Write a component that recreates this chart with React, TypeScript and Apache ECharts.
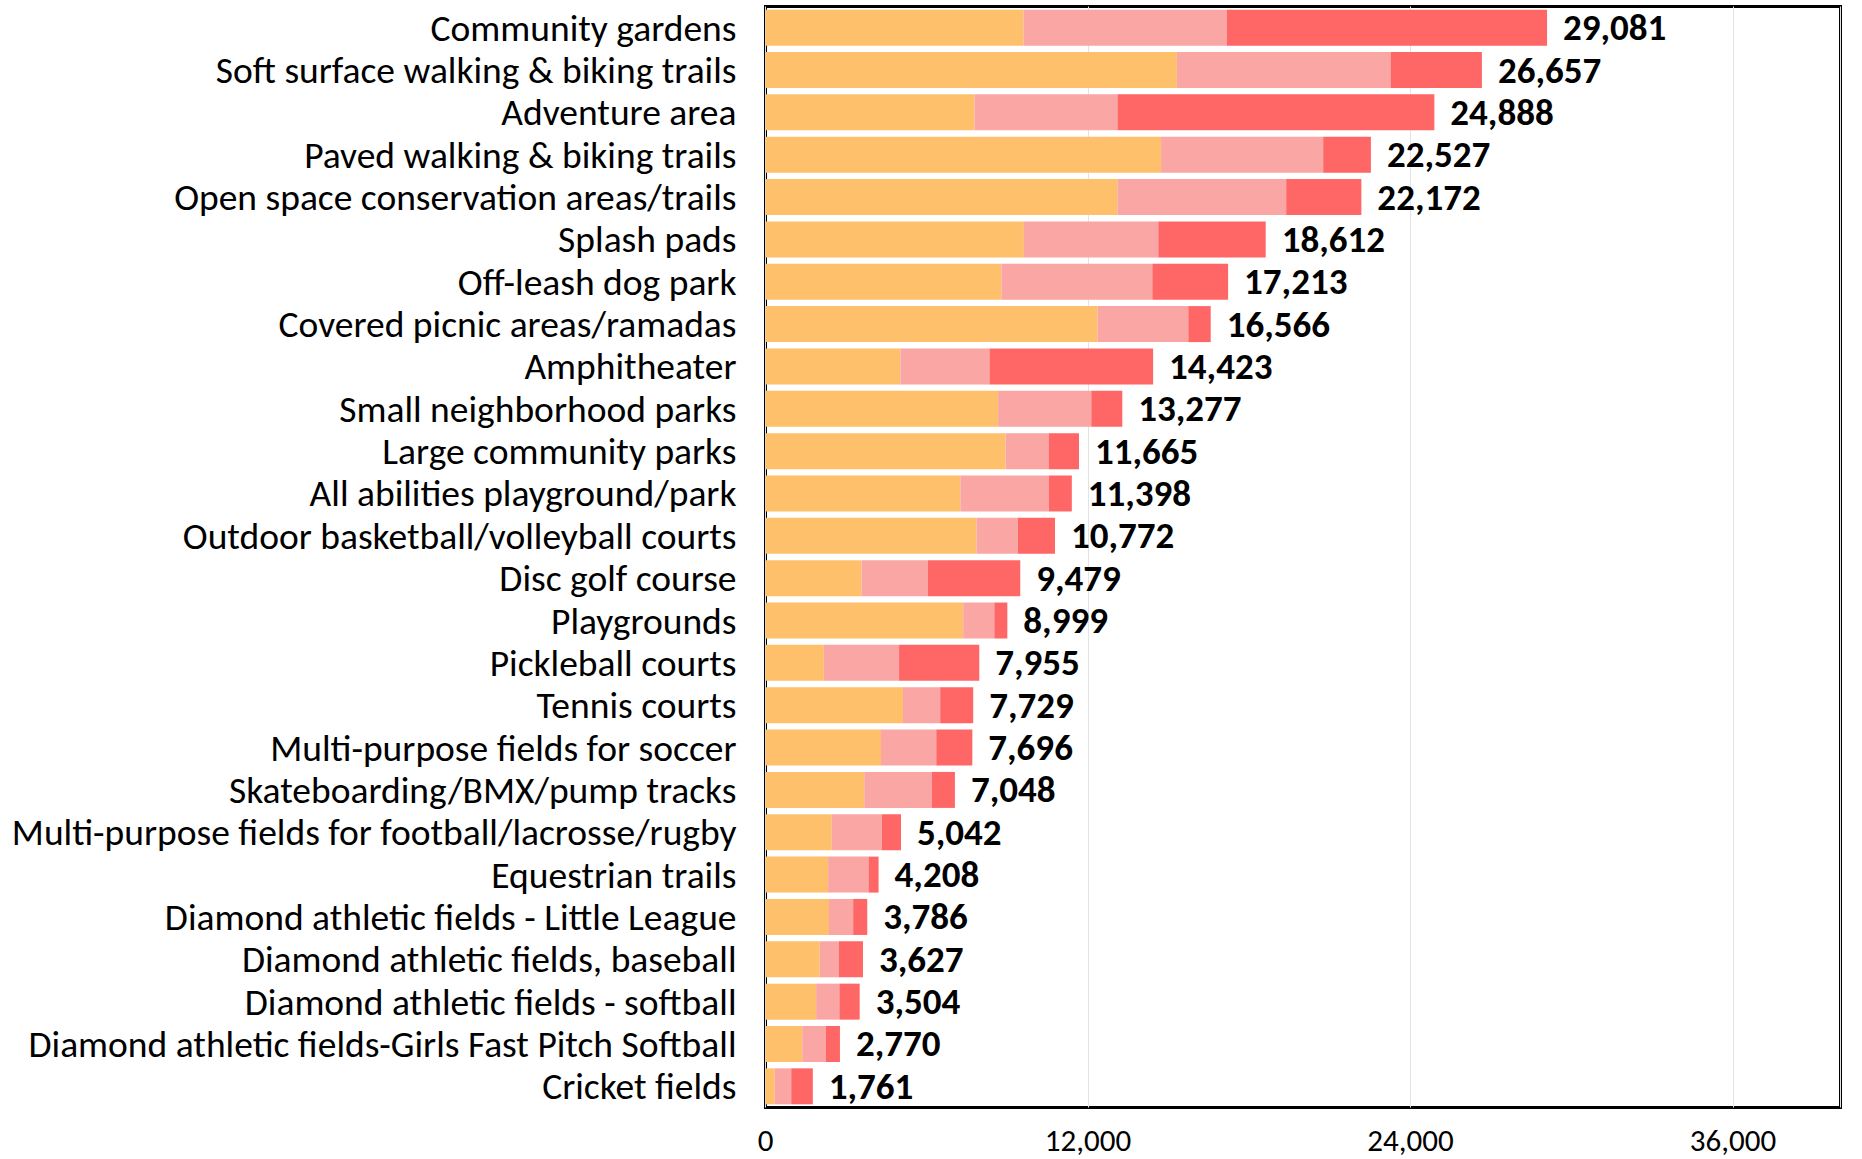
import React, { useEffect, useRef } from "react";
import * as echarts from "echarts";

const categories = [
  "Community gardens",
  "Soft surface walking & biking trails",
  "Adventure area",
  "Paved walking & biking trails",
  "Open space conservation areas/trails",
  "Splash pads",
  "Off-leash dog park",
  "Covered picnic areas/ramadas",
  "Amphitheater",
  "Small neighborhood parks",
  "Large community parks",
  "All abilities playground/park",
  "Outdoor basketball/volleyball courts",
  "Disc golf course",
  "Playgrounds",
  "Pickleball courts",
  "Tennis courts",
  "Multi-purpose fields for soccer",
  "Skateboarding/BMX/pump tracks",
  "Multi-purpose fields for football/lacrosse/rugby",
  "Equestrian trails",
  "Diamond athletic fields - Little League",
  "Diamond athletic fields, baseball",
  "Diamond athletic fields - softball",
  "Diamond athletic fields-Girls Fast Pitch Softball",
  "Cricket fields",
];

const totals = [29081, 26657, 24888, 22527, 22172, 18612, 17213, 16566, 14423, 13277, 11665, 11398, 10772, 9479, 8999, 7955, 7729, 7696, 7048, 5042, 4208, 3786, 3627, 3504, 2770, 1761];

const orangeValues = [9600, 15306, 7776, 14719, 13094, 9616, 8777, 12355, 5021, 8656, 8935, 7251, 7851, 3571, 7356, 2171, 5115, 4298, 3674, 2465, 2329, 2362, 2019, 1884, 1366, 345];
const pinkValues = [7570, 7952, 5320, 6032, 6280, 5000, 5617, 3377, 3312, 3466, 1601, 3289, 1539, 2466, 1157, 2799, 1385, 2056, 2512, 1867, 1503, 899, 711, 866, 873, 612];
const redValues = [11911, 3399, 11792, 1776, 2798, 3996, 2819, 834, 6090, 1155, 1129, 858, 1382, 3442, 486, 2985, 1229, 1342, 862, 710, 376, 525, 897, 754, 531, 804];

const xTicks = [0, 12000, 24000, 36000];

const FONT = "Carlito, Lato, sans-serif";

function fmt(v: number) {
  return v.toLocaleString("en-US");
}

export default function App() {
  const ref = useRef<HTMLDivElement>(null);
  useEffect(() => {
    if (!ref.current) return;
    const chart = echarts.init(ref.current, null, { renderer: "svg" });
    const barCommon = {
      type: "bar" as const,
      stack: "total",
      barCategoryGap: "15%",
    };
    chart.setOption({
      animation: false,
      backgroundColor: "#ffffff",
      grid: {
        left: 765.5,
        right: 21.5,
        top: 6.5,
        bottom: 51.5,
        show: true,
        borderColor: "#000000",
        borderWidth: 3,
        backgroundColor: "transparent",
      },
      xAxis: {
        type: "value",
        min: 0,
        max: 40000,
        interval: 12000,
        axisLine: { show: false },
        axisTick: { show: false },
        splitLine: { show: true, lineStyle: { color: "#e3e3e3", width: 1 } },
        axisLabel: {
          showMaxLabel: false,
          margin: 17,
          color: "#000000",
          fontFamily: FONT,
          fontSize: 31,
          lineHeight: 31,
          formatter: (v: number) => (xTicks.includes(v) ? fmt(v) : ""),
        },
      },
      yAxis: {
        type: "category",
        data: categories,
        inverse: true,
        axisLine: { show: false },
        axisTick: { show: false },
        splitLine: { show: false },
        axisLabel: {
          interval: 0,
          margin: 29,
          color: "#000000",
          fontFamily: FONT,
          fontSize: 37.5,
          lineHeight: 40,
        },
      },
      series: [
        { ...barCommon, name: "A", data: orangeValues, itemStyle: { color: "#FEC06A" } },
        { ...barCommon, name: "B", data: pinkValues, itemStyle: { color: "#F9A6A4" } },
        {
          ...barCommon,
          name: "C",
          data: redValues,
          itemStyle: { color: "#FF6666" },
          label: {
            show: true,
            position: "right",
            distance: 16,
            color: "#000000",
            fontFamily: FONT,
            fontWeight: "bold",
            fontSize: 37,
            formatter: (p: any) => fmt(totals[p.dataIndex]),
          },
        },
      ],
    });
    return () => chart.dispose();
  }, []);
  return (
    <div
      ref={ref}
      style={{ position: "absolute", left: 0, top: 0, width: 1862, height: 1159 }}
    />
  );
}
